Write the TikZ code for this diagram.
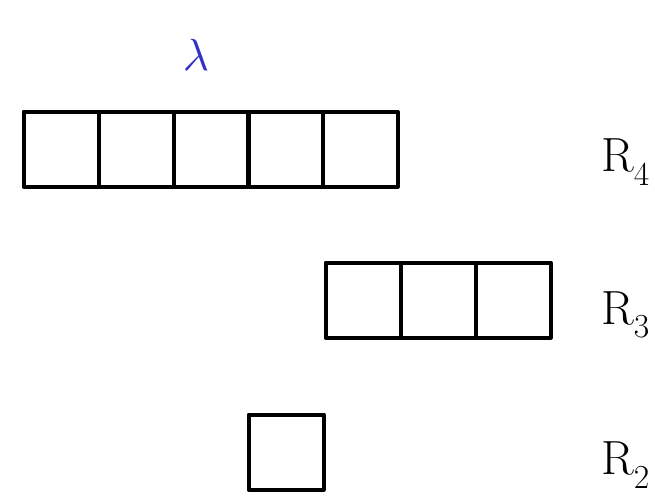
\documentclass[tikz,border=0pt]{standalone}
\usepackage{amsmath,amssymb}
\usepackage{fontspec}
\usepackage{tikz}
\usetikzlibrary{positioning,calc}
\usepackage{xcolor}
\definecolor{lamblue}{RGB}{50,50,200}
\tikzset{
    cell/.style={draw, line width=4pt, line join=round, minimum size=75pt, inner sep=0pt},
    rowlabel/.style={font=\fontsize{48}{56}\selectfont, inner sep=0pt, anchor=west},
}

\begin{document}
\begin{tikzpicture}[x=1pt, y=-1pt]
        \useasboundingbox (0,0) rectangle (655,501);
        
        \foreach \name/\xpos in {a1/61, a2/136, a3/211, a4/285, a5/360}
            \node[cell] (\name) at (\xpos,149) {};
        
        \foreach \name/\xpos in {b1/363, b2/438, b3/513}
            \node[cell] (\name) at (\xpos,300) {};
        
        \node[cell] (c1) at (286,452) {};
        
        \node[text=lamblue] (lam) at (196,55) {\scalebox{4.5}{$\lambda$}};
        
        \node[rowlabel] (r4) at (601,162) {R\textsubscript{4}};
        \node[rowlabel] (r3) at (601,315) {R\textsubscript{3}};
        \node[rowlabel] (r2) at (601,465) {R\textsubscript{2}};
    \end{tikzpicture}
\end{document}
